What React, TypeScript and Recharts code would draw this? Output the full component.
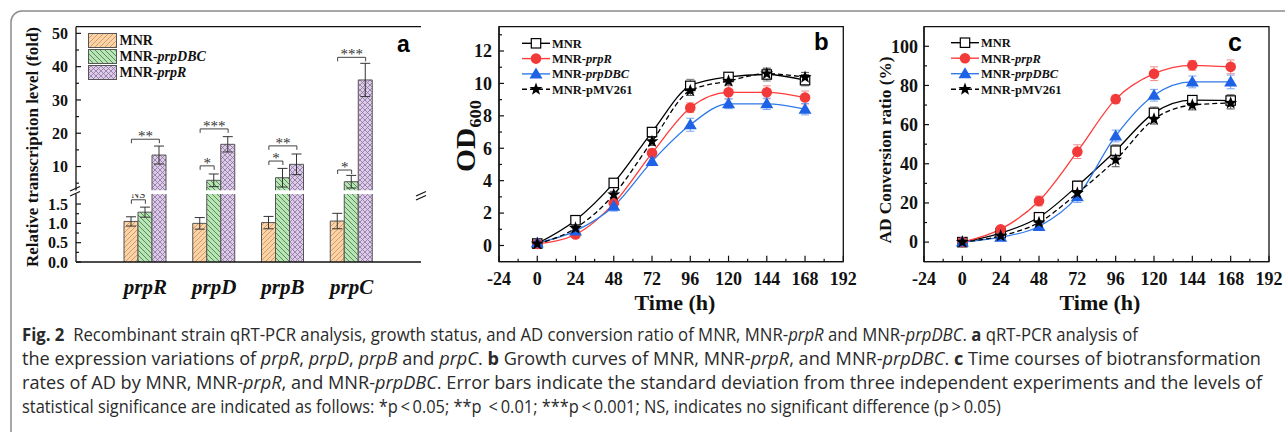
import React, { useLayoutEffect, useRef, useState } from 'react';
import {
  ComposedChart,
  LineChart,
  Bar,
  Line,
  XAxis,
  YAxis,
  ErrorBar,
  ReferenceLine,
  ReferenceArea,
  Legend,
} from 'recharts';

const SERIF = '"Liberation Serif", "Times New Roman", Times, serif';
const SANS = '"Liberation Sans", Arial, Helvetica, sans-serif';
const CAPTION_FONT = '"Open Sans", "Noto Sans", sans-serif';

// ---------------- Panel a : qRT-PCR ----------------
const genes = ['prpR', 'prpD', 'prpB', 'prpC'];
const foldMNR = [1.05, 1.0, 1.02, 1.06];
const errMNR = [0.12, 0.15, 0.16, 0.2];
const foldDBC = [1.29, 5.86, 6.64, 5.44];
const errDBC = [0.13, 1.9, 2.8, 1.9];
const foldPrpR = [13.45, 16.67, 10.66, 36.0];
const errPrpR = [2.7, 2.3, 3.1, 5.0];
const sigOuterY = [18.2, 21.3, 16.2, 42.8];
const sigOuterText = ['**', '***', '**', '***'];
const sigInnerY = [1.61, 10.2, 11.65, 8.95];
const sigInnerText = ['NS', '*', '*', '*'];
const upperTicksA = [5, 10, 15, 20, 25, 30, 35, 40, 45, 50];
const lowerTicksA = [0, 0.25, 0.5, 0.75, 1, 1.25, 1.5];
const A_LOW_MAX = 1.76;
const A_HIGH_MIN = 2.8;
const A_HIGH_MAX = 52;

// ---------------- Panel b : OD600 ----------------
const hours = [0, 24, 48, 72, 96, 120, 144, 168];
const odMNR = [0.12, 1.56, 3.86, 7.0, 9.85, 10.4, 10.55, 10.2];
const odMNRErr = [0.1, 0.15, 0.2, 0.25, 0.4, 0.25, 0.4, 0.35];
const odPrpR = [0.1, 0.68, 2.6, 5.7, 8.5, 9.45, 9.45, 9.13];
const odPrpRErr = [0.1, 0.1, 0.2, 0.25, 0.3, 0.4, 0.4, 0.4];
const odDBC = [0.15, 0.9, 2.42, 5.19, 7.45, 8.74, 8.74, 8.41];
const odDBCErr = [0.1, 0.15, 0.3, 0.25, 0.4, 0.3, 0.35, 0.35];
const odPMV = [0.1, 1.07, 3.14, 6.42, 9.56, 10.15, 10.6, 10.38];
const odPMVErr = [0.1, 0.15, 0.2, 0.25, 0.3, 0.25, 0.3, 0.3];

// ---------------- Panel c : AD conversion ----------------
const adMNR = [0, 4.6, 12.7, 28.7, 46.7, 66, 72.5, 72.3];
const adMNRErr = [1, 1.5, 2, 2.5, 3, 3, 2, 3];
const adPrpR = [0, 6.6, 21, 46.2, 73, 86, 90.3, 89.5];
const adPrpRErr = [1, 1.2, 2.5, 3.5, 2, 3.5, 2.5, 3.5];
const adDBC = [0, 2.5, 8, 23.2, 54.2, 75, 81.8, 81.8];
const adDBCErr = [1, 1, 1.5, 3, 3, 3, 3, 3.5];
const adPMV = [0, 3.2, 10, 25, 42, 62.8, 70, 71];
const adPMVErr = [1, 1, 1.5, 2.5, 3.5, 2.5, 2.5, 3];

const timeTicks = [-24, -12, 0, 12, 24, 36, 48, 60, 72, 84, 96, 108, 120, 132, 144, 156, 168, 180, 192];
const odTicks = [0, 1, 2, 3, 4, 5, 6, 7, 8, 9, 10, 11, 12, 13];
const adTicks = [0, 10, 20, 30, 40, 50, 60, 70, 80, 90, 100];

// ---------------- styles ----------------
const RED = '#f23a3a';
const RED_LINE = '#ff3b3b';
const RED_ERR = '#f58a8a';
const BLUE = '#1e62e6';
const BLUE_LINE = '#2e7ae8';
const BLUE_ERR = '#7aa6f0';
const BAR_W = 14;
const FRAME = '#111';

// ---------------- rows ----------------
const rowsUpperA = genes.map((g, i) => {
  const hi = (v: number) => (v > A_HIGH_MIN ? v : null);
  return {
    gene: g,
    mnr: hi(foldMNR[i]),
    mnrE: foldMNR[i] > A_HIGH_MIN ? errMNR[i] : null,
    dbc: hi(foldDBC[i]),
    dbcE: foldDBC[i] > A_HIGH_MIN ? errDBC[i] : null,
    prpr: hi(foldPrpR[i]),
    prprE: foldPrpR[i] > A_HIGH_MIN ? errPrpR[i] : null,
    sigO: sigOuterY[i],
    sigOT: sigOuterText[i],
    sigI: sigInnerY[i] > A_HIGH_MIN ? sigInnerY[i] : null,
    sigIT: sigInnerText[i],
  };
});
const rowsLowerA = genes.map((g, i) => ({
  gene: g,
  mnr: foldMNR[i],
  mnrE: foldMNR[i] <= A_LOW_MAX ? errMNR[i] : null,
  dbc: foldDBC[i],
  dbcE: foldDBC[i] <= A_LOW_MAX ? errDBC[i] : null,
  prpr: foldPrpR[i],
  prprE: foldPrpR[i] <= A_LOW_MAX ? errPrpR[i] : null,
  sigI: sigInnerY[i] <= A_LOW_MAX ? sigInnerY[i] : null,
  sigIT: sigInnerText[i],
}));
const rowsB = hours.map((h, i) => ({
  h,
  mnr: odMNR[i], mnrE: odMNRErr[i],
  prpr: odPrpR[i], prprE: odPrpRErr[i],
  dbc: odDBC[i], dbcE: odDBCErr[i],
  pmv: odPMV[i], pmvE: odPMVErr[i],
}));
const rowsC = hours.map((h, i) => ({
  h,
  mnr: adMNR[i], mnrE: adMNRErr[i],
  prpr: adPrpR[i], prprE: adPrpRErr[i],
  dbc: adDBC[i], dbcE: adDBCErr[i],
  pmv: adPMV[i], pmvE: adPMVErr[i],
}));

// ---------------- helpers ----------------
const isMajor = (v: number, step: number) => Math.abs(v / step - Math.round(v / step)) < 1e-6;

const Patterns = ({ p }: { p: string }) => (
  <defs>
    <pattern id={`${p}-mnr`} patternUnits="userSpaceOnUse" width="5" height="5">
      <rect width="5" height="5" fill="#fbd3a8" />
      <path d="M0,5 L5,0 M-1,1 L1,-1 M4,6 L6,4" stroke="#cf9358" strokeWidth="0.9" />
    </pattern>
    <pattern id={`${p}-dbc`} patternUnits="userSpaceOnUse" width="5" height="5">
      <rect width="5" height="5" fill="#b8e5b4" />
      <path d="M0,0 L5,5 M-1,4 L1,6 M4,-1 L6,1" stroke="#4f8052" strokeWidth="0.9" />
    </pattern>
    <pattern id={`${p}-prpr`} patternUnits="userSpaceOnUse" width="5" height="5">
      <rect width="5" height="5" fill="#dccbea" />
      <path d="M0,0 L5,5 M0,5 L5,0" stroke="#8a7398" strokeWidth="0.8" />
    </pattern>
  </defs>
);

const makeBarShape = (fill: string) => (p: any) => {
  const { x, y, width, height, background } = p;
  if (x == null || y == null || height == null || !isFinite(height) || height <= 0) return <g />;
  let top = y;
  let clipped = false;
  if (background && typeof background.y === 'number' && y < background.y) {
    top = background.y;
    clipped = true;
  }
  const bottom = y + height;
  const h = bottom - top;
  if (h <= 0) return <g />;
  const d = clipped
    ? `M${x},${bottom}V${top}M${x + width},${top}V${bottom}`
    : `M${x},${bottom}V${top}H${x + width}V${bottom}`;
  return (
    <g>
      <rect x={x} y={top} width={width} height={h} fill={fill} />
      <path d={d} fill="none" stroke="#555" strokeWidth={1} />
    </g>
  );
};

const makeBracket = (span: 'outer' | 'inner', labelKey: string) => (p: any) => {
  const { cx, cy, payload, index } = p;
  if (cx == null || cy == null || !isFinite(cy) || !payload) return <g key={`br-${span}-${index}`} />;
  const x1 = cx - BAR_W;
  const x2 = span === 'outer' ? cx + BAR_W : cx;
  const text = payload[labelKey];
  const ns = text === 'NS';
  return (
    <g key={`br-${span}-${index}`}>
      <path d={`M${x1},${cy + 4}V${cy}H${x2}V${cy + 4}`} stroke="#444" fill="none" strokeWidth={1} />
      <text
        x={(x1 + x2) / 2}
        y={ns ? cy - 2 : cy + 2}
        textAnchor="middle"
        fontFamily={SERIF}
        fontSize={ns ? 11 : 15}
        fill="#333"
      >
        {text}
      </text>
    </g>
  );
};

const makeYTick = (step: number, fmt: (v: number) => string, fs: number, gap: number) => (p: any) => {
  const { x, y, payload } = p;
  const v = payload.value;
  const major = isMajor(v, step);
  return (
    <g>
      <line x1={x} y1={y} x2={x + (major ? 5 : 3)} y2={y} stroke={FRAME} strokeWidth={1.2} />
      {major && (
        <text x={x - gap} y={y} dy="0.35em" textAnchor="end" fontFamily={SERIF} fontWeight="bold" fontSize={fs} fill="#111">
          {fmt(v)}
        </text>
      )}
    </g>
  );
};

const makeXTick = (step: number, fs: number, off: number) => (p: any) => {
  const { x, y, payload } = p;
  const v = payload.value;
  const major = isMajor(v, step);
  return (
    <g>
      <line x1={x} y1={y} x2={x} y2={y - (major ? 6 : 3)} stroke={FRAME} strokeWidth={1.2} />
      {major && (
        <text x={x} y={y + off} dy="0.35em" textAnchor="middle" fontFamily={SERIF} fontWeight="bold" fontSize={fs} fill="#111">
          {v}
        </text>
      )}
    </g>
  );
};

const geneTick = (p: any) => {
  const { x, y, payload } = p;
  return (
    <text x={x} y={y + 32} textAnchor="middle" fontFamily={SERIF} fontWeight="bold" fontStyle="italic" fontSize={21} fill="#111">
      {payload.value}
    </text>
  );
};

const starPath = (cx: number, cy: number, R: number, r: number) => {
  let d = '';
  for (let k = 0; k < 10; k++) {
    const ang = -Math.PI / 2 + (k * Math.PI) / 5;
    const rad = k % 2 === 0 ? R : r;
    d += (k === 0 ? 'M' : 'L') + (cx + rad * Math.cos(ang)).toFixed(2) + ',' + (cy + rad * Math.sin(ang)).toFixed(2);
  }
  return d + 'Z';
};

const ok = (p: any) => p && p.cx != null && p.cy != null && isFinite(p.cx) && isFinite(p.cy);
const squareMark = (cx: number, cy: number) => (
  <rect x={cx - 4.7} y={cy - 4.7} width={9.4} height={9.4} fill="#fff" stroke="#000" strokeWidth={1.2} />
);
const circleMark = (cx: number, cy: number) => <circle cx={cx} cy={cy} r={5.3} fill={RED} />;
const triMark = (cx: number, cy: number) => (
  <path d={`M${cx},${cy - 6.5}L${cx + 6.5},${cy + 4.5}L${cx - 6.5},${cy + 4.5}Z`} fill={BLUE} />
);
const starMark = (cx: number, cy: number) => <path d={starPath(cx, cy, 6.8, 2.8)} fill="#000" />;

const dotOf = (mk: (cx: number, cy: number) => React.ReactElement, name: string) => (p: any) =>
  ok(p) ? <g key={`${name}-${p.index}`}>{mk(p.cx, p.cy)}</g> : <g key={`${name}-${p.index}`} />;

// Legend for line panels
const lineLegendItems = [
  { pre: 'MNR', it: '', color: '#000', dash: undefined as string | undefined, mk: squareMark },
  { pre: 'MNR-', it: 'prpR', color: RED_LINE, dash: undefined, mk: circleMark },
  { pre: 'MNR-', it: 'prpDBC', color: BLUE_LINE, dash: undefined, mk: triMark },
  { pre: 'MNR-pMV261', it: '', color: '#000', dash: '5 3', mk: starMark },
];
const LineLegend = ({ rowY, rowGap }: { rowY: number; rowGap: number }) => (
  <svg width={150} height={72} style={{ display: 'block', overflow: 'visible' }}>
    {lineLegendItems.map((it, i) => {
      const y = rowY + i * rowGap;
      return (
        <g key={i}>
          <line x1={1} y1={y} x2={29} y2={y} stroke={it.color} strokeWidth={1.4} strokeDasharray={it.dash} />
          {it.mk(15, y)}
          <text x={31} y={y} dy="0.35em" fontFamily={SERIF} fontWeight="bold" fontSize={12.5} fill="#111">
            {it.pre}
            {it.it && <tspan fontStyle="italic">{it.it}</tspan>}
          </text>
        </g>
      );
    })}
  </svg>
);

const BarLegend = () => (
  <svg width={140} height={52} style={{ display: 'block', overflow: 'visible' }}>
    <Patterns p="lg" />
    {[
      { k: 'mnr', pre: 'MNR', it: '' },
      { k: 'dbc', pre: 'MNR-', it: 'prpDBC' },
      { k: 'prpr', pre: 'MNR-', it: 'prpR' },
    ].map((it, i) => {
      const top = 2.5 + i * 16;
      return (
        <g key={it.k}>
          <rect x={2.5} y={top} width={28} height={14} fill={`url(#lg-${it.k})`} stroke="#555" strokeWidth={1} />
          <text x={33.5} y={top + 7} dy="0.35em" fontFamily={SERIF} fontWeight="bold" fontSize={14} fill="#111">
            {it.pre}
            {it.it && <tspan fontStyle="italic">{it.it}</tspan>}
          </text>
        </g>
      );
    })}
  </svg>
);

const axisLineStyle = { stroke: FRAME, strokeWidth: 1.3 };

// ---------------- caption ----------------
type Seg = [string, '' | 'b' | 'i'];
const captionLines: { segs: Seg[]; len: number }[] = [
  {
    len: 1119,
    segs: [
      ['Fig. 2', 'b'],
      ['  Recombinant strain qRT-PCR analysis, growth status, and AD conversion ratio of MNR, MNR-', ''],
      ['prpR', 'i'],
      [' and MNR-', ''],
      ['prpDBC', 'i'],
      ['. ', ''],
      ['a', 'b'],
      [' qRT-PCR analysis of', ''],
    ],
  },
  {
    len: 1240,
    segs: [
      ['the expression variations of ', ''],
      ['prpR', 'i'],
      [', ', ''],
      ['prpD', 'i'],
      [', ', ''],
      ['prpB', 'i'],
      [' and ', ''],
      ['prpC', 'i'],
      ['. ', ''],
      ['b', 'b'],
      [' Growth curves of MNR, MNR-', ''],
      ['prpR', 'i'],
      [', and MNR-', ''],
      ['prpDBC', 'i'],
      ['. ', ''],
      ['c', 'b'],
      [' Time courses of biotransformation', ''],
    ],
  },
  {
    len: 1243,
    segs: [
      ['rates of AD by MNR, MNR-', ''],
      ['prpR', 'i'],
      [', and MNR-', ''],
      ['prpDBC', 'i'],
      ['. Error bars indicate the standard deviation from three independent experiments and the levels of', ''],
    ],
  },
  {
    len: 980,
    segs: [
      ['statistical significance are indicated as follows: *p\u2009<\u20090.05; **p\u2009 <\u20090.01; ***p\u2009<\u20090.001; NS, indicates no significant difference (p\u2009>\u20090.05)', ''],
    ],
  },
];
const captionBaselines = [341, 365, 389, 413];

const CaptionLine = ({ y, len, segs }: { y: number; len: number; segs: Seg[] }) => {
  const ref = useRef<SVGTextElement>(null);
  const [k, setK] = useState<number | null>(null);
  useLayoutEffect(() => {
    const el = ref.current;
    if (!el || k !== null) return;
    let w = 0;
    try {
      w = el.getBBox().width; // local (untransformed) width
    } catch (e) {
      w = 0;
    }
    setK(w > 0 ? len / w : 0.9);
  }, [len, k]);
  const s = k === null ? 1 : k;
  return (
    <text
      ref={ref}
      transform={`translate(22,${y}) scale(${s},1)`}
      x={0}
      y={0}
      fontFamily={CAPTION_FONT}
      fontSize={18.5}
      fill="#2a2a2a"
      xmlSpace="preserve"
    >
      {segs.map((sg, j) => (
        <tspan
          key={j}
          fontWeight={sg[1] === 'b' ? 'bold' : undefined}
          fontStyle={sg[1] === 'i' ? 'italic' : undefined}
        >
          {sg[0]}
        </tspan>
      ))}
    </text>
  );
};

export default function App() {
  return (
    <div style={{ position: 'absolute', left: 0, top: 0, width: 1285, height: 432, background: '#fff', overflow: 'hidden' }}>
      {/* ---------- Panel a, upper segment ---------- */}
      <div style={{ position: 'absolute', left: 0, top: 0 }}>
        <ComposedChart
          width={440}
          height={190.5}
          data={rowsUpperA}
          margin={{ top: 26.7, right: 19, left: 0, bottom: 0 }}
          barGap={0}
          barSize={BAR_W}
        >
          <Patterns p="pu" />
          <XAxis dataKey="gene" hide padding={{ left: 35, right: 35 }} />
          <YAxis
            yAxisId="L"
            type="number"
            domain={[A_HIGH_MIN, A_HIGH_MAX]}
            allowDataOverflow
            ticks={upperTicksA}
            interval={0}
            width={76}
            tickSize={0}
            tickMargin={0}
            tickLine={false}
            axisLine={axisLineStyle}
            tick={makeYTick(10, (v) => String(v), 16, 8)}
          />
          <YAxis
            yAxisId="R"
            orientation="right"
            type="number"
            domain={[A_HIGH_MIN, A_HIGH_MAX]}
            allowDataOverflow
            width={0}
            tick={false}
            tickLine={false}
            axisLine={axisLineStyle}
          />
          <ReferenceLine yAxisId="L" y={A_HIGH_MAX} stroke={FRAME} strokeWidth={1.3} />
          <Bar yAxisId="L" dataKey="mnr" isAnimationActive={false} shape={makeBarShape('url(#pu-mnr)')}>
            <ErrorBar dataKey="mnrE" width={5} stroke="#333" strokeWidth={1} direction="y" />
          </Bar>
          <Bar yAxisId="L" dataKey="dbc" isAnimationActive={false} shape={makeBarShape('url(#pu-dbc)')}>
            <ErrorBar dataKey="dbcE" width={5} stroke="#333" strokeWidth={1} direction="y" />
          </Bar>
          <Bar yAxisId="L" dataKey="prpr" isAnimationActive={false} shape={makeBarShape('url(#pu-prpr)')}>
            <ErrorBar dataKey="prprE" width={5} stroke="#333" strokeWidth={1} direction="y" />
          </Bar>
          <Line
            yAxisId="L"
            dataKey="sigO"
            stroke="none"
            isAnimationActive={false}
            activeDot={false}
            legendType="none"
            dot={makeBracket('outer', 'sigOT')}
          />
          <Line
            yAxisId="L"
            dataKey="sigI"
            stroke="none"
            isAnimationActive={false}
            activeDot={false}
            legendType="none"
            dot={makeBracket('inner', 'sigIT')}
          />
          <Legend
            layout="vertical"
            align="center"
            verticalAlign="middle"
            wrapperStyle={{ left: 86, top: 31, width: 140, height: 52 }}
            content={() => <BarLegend />}
          />
        </ComposedChart>
      </div>

      {/* ---------- Panel a, lower segment ---------- */}
      <div style={{ position: 'absolute', left: 0, top: 182 }}>
        <ComposedChart
          width={440}
          height={122}
          data={rowsLowerA}
          margin={{ top: 12, right: 19, left: 0, bottom: 0 }}
          barGap={0}
          barSize={BAR_W}
        >
          <Patterns p="pl" />
          <XAxis
            dataKey="gene"
            padding={{ left: 35, right: 35 }}
            height={42}
            tickSize={0}
            tickMargin={0}
            tickLine={false}
            axisLine={axisLineStyle}
            tick={geneTick}
            interval={0}
          />
          <YAxis
            yAxisId="L"
            type="number"
            domain={[0, A_LOW_MAX]}
            allowDataOverflow
            ticks={lowerTicksA}
            interval={0}
            width={76}
            tickSize={0}
            tickMargin={0}
            tickLine={false}
            axisLine={axisLineStyle}
            tick={makeYTick(0.5, (v) => v.toFixed(1), 16, 8)}
          />
          <YAxis
            yAxisId="R"
            orientation="right"
            type="number"
            domain={[0, A_LOW_MAX]}
            allowDataOverflow
            width={0}
            tick={false}
            tickLine={false}
            axisLine={axisLineStyle}
          />
          <Bar yAxisId="L" dataKey="mnr" isAnimationActive={false} shape={makeBarShape('url(#pl-mnr)')}>
            <ErrorBar dataKey="mnrE" width={5} stroke="#333" strokeWidth={1} direction="y" />
          </Bar>
          <Bar yAxisId="L" dataKey="dbc" isAnimationActive={false} shape={makeBarShape('url(#pl-dbc)')}>
            <ErrorBar dataKey="dbcE" width={5} stroke="#333" strokeWidth={1} direction="y" />
          </Bar>
          <Bar yAxisId="L" dataKey="prpr" isAnimationActive={false} shape={makeBarShape('url(#pl-prpr)')}>
            <ErrorBar dataKey="prprE" width={5} stroke="#333" strokeWidth={1} direction="y" />
          </Bar>
          <Line
            yAxisId="L"
            dataKey="sigI"
            stroke="none"
            isAnimationActive={false}
            activeDot={false}
            legendType="none"
            dot={makeBracket('inner', 'sigIT')}
          />
        </ComposedChart>
      </div>

      {/* ---------- Panel b ---------- */}
      <div style={{ position: 'absolute', left: 440, top: 0 }}>
        <LineChart width={420} height={300} data={rowsB} margin={{ top: 26.7, right: 16.7, left: 0, bottom: 0 }}>
          <XAxis
            dataKey="h"
            type="number"
            domain={[-24, 192]}
            allowDataOverflow
            ticks={timeTicks}
            interval={0}
            height={38.3}
            tickSize={0}
            tickMargin={0}
            tickLine={false}
            axisLine={axisLineStyle}
            tick={makeXTick(24, 18, 17)}
          />
          <YAxis
            type="number"
            domain={[-1, 13.5]}
            allowDataOverflow
            ticks={odTicks}
            interval={0}
            width={59}
            tickSize={0}
            tickMargin={0}
            tickLine={false}
            axisLine={axisLineStyle}
            tick={makeYTick(2, (v) => String(v), 18, 7)}
          />
          <ReferenceArea x1={-24} x2={192} y1={-1} y2={13.5} fill="none" stroke={FRAME} strokeWidth={1.3} />
          <Line dataKey="mnr" type="monotone" stroke="#000" strokeWidth={1.3} dot={dotOf(squareMark, 'bm')} activeDot={false} isAnimationActive={false}>
            <ErrorBar dataKey="mnrE" width={4} stroke="#777" strokeWidth={1} direction="y" />
          </Line>
          <Line dataKey="prpr" type="monotone" stroke={RED_LINE} strokeWidth={1.3} dot={dotOf(circleMark, 'br')} activeDot={false} isAnimationActive={false}>
            <ErrorBar dataKey="prprE" width={4} stroke={RED_ERR} strokeWidth={1} direction="y" />
          </Line>
          <Line dataKey="dbc" type="monotone" stroke={BLUE_LINE} strokeWidth={1.3} dot={dotOf(triMark, 'bd')} activeDot={false} isAnimationActive={false}>
            <ErrorBar dataKey="dbcE" width={4} stroke={BLUE_ERR} strokeWidth={1} direction="y" />
          </Line>
          <Line dataKey="pmv" type="monotone" stroke="#000" strokeWidth={1.3} strokeDasharray="5 3" dot={dotOf(starMark, 'bp')} activeDot={false} isAnimationActive={false}>
            <ErrorBar dataKey="pmvE" width={4} stroke="#555" strokeWidth={1} direction="y" />
          </Line>
          <Legend
            layout="vertical"
            align="center"
            verticalAlign="middle"
            wrapperStyle={{ left: 81, top: 35, width: 150, height: 72 }}
            content={() => <LineLegend rowY={8.3} rowGap={15.3} />}
          />
        </LineChart>
      </div>

      {/* ---------- Panel c ---------- */}
      <div style={{ position: 'absolute', left: 860, top: 0 }}>
        <LineChart width={425} height={300} data={rowsC} margin={{ top: 26.7, right: 16, left: 0, bottom: 0 }}>
          <XAxis
            dataKey="h"
            type="number"
            domain={[-24, 192]}
            allowDataOverflow
            ticks={timeTicks}
            interval={0}
            height={38.3}
            tickSize={0}
            tickMargin={0}
            tickLine={false}
            axisLine={axisLineStyle}
            tick={makeXTick(24, 18, 17)}
          />
          <YAxis
            type="number"
            domain={[-10, 110]}
            allowDataOverflow
            ticks={adTicks}
            interval={0}
            width={64}
            tickSize={0}
            tickMargin={0}
            tickLine={false}
            axisLine={axisLineStyle}
            tick={makeYTick(20, (v) => String(v), 18, 6)}
          />
          <ReferenceArea x1={-24} x2={192} y1={-10} y2={110} fill="none" stroke={FRAME} strokeWidth={1.3} />
          <Line dataKey="mnr" type="monotone" stroke="#000" strokeWidth={1.3} dot={dotOf(squareMark, 'cm')} activeDot={false} isAnimationActive={false}>
            <ErrorBar dataKey="mnrE" width={4} stroke="#777" strokeWidth={1} direction="y" />
          </Line>
          <Line dataKey="prpr" type="monotone" stroke={RED_LINE} strokeWidth={1.3} dot={dotOf(circleMark, 'cr')} activeDot={false} isAnimationActive={false}>
            <ErrorBar dataKey="prprE" width={4} stroke={RED_ERR} strokeWidth={1} direction="y" />
          </Line>
          <Line dataKey="dbc" type="monotone" stroke={BLUE_LINE} strokeWidth={1.3} dot={dotOf(triMark, 'cd')} activeDot={false} isAnimationActive={false}>
            <ErrorBar dataKey="dbcE" width={4} stroke={BLUE_ERR} strokeWidth={1} direction="y" />
          </Line>
          <Line dataKey="pmv" type="monotone" stroke="#000" strokeWidth={1.3} strokeDasharray="5 3" dot={dotOf(starMark, 'cp')} activeDot={false} isAnimationActive={false}>
            <ErrorBar dataKey="pmvE" width={4} stroke="#555" strokeWidth={1} direction="y" />
          </Line>
          <Legend
            layout="vertical"
            align="center"
            verticalAlign="middle"
            wrapperStyle={{ left: 90, top: 35, width: 150, height: 72 }}
            content={() => <LineLegend rowY={7.7} rowGap={15.5} />}
          />
        </LineChart>
      </div>

      {/* ---------- overlay: titles, letters, break marks, caption, frame ---------- */}
      <svg
        width={1285}
        height={432}
        style={{ position: 'absolute', left: 0, top: 0, pointerEvents: 'none' }}
      >
        <rect x={11} y={11} width={1300} height={440} rx={11} fill="none" stroke="#8c8c8c" strokeWidth={1.5} />

        {/* panel letters */}
        <text x={397} y={52} fontFamily={SANS} fontWeight="bold" fontSize={23} fill="#000">a</text>
        <text x={814} y={50} fontFamily={SANS} fontWeight="bold" fontSize={24} fill="#000">b</text>
        <text x={1228} y={51} fontFamily={SANS} fontWeight="bold" fontSize={25} fill="#000">c</text>

        {/* axis break marks (panel a) */}
        <g stroke="#111" strokeWidth={1.2}>
          <line x1={70} y1={191} x2={80} y2={186.5} />
          <line x1={70} y1={196} x2={80} y2={191.5} />
          <line x1={416} y1={196} x2={426} y2={191.5} />
          <line x1={416} y1={200} x2={426} y2={195.5} />
        </g>

        {/* y titles */}
        <text
          transform="translate(38,147) rotate(-90)"
          textAnchor="middle"
          fontFamily={SERIF}
          fontWeight="bold"
          fontSize={16}
          textLength={240}
          lengthAdjust="spacingAndGlyphs"
          fill="#111"
        >
          Relative transcription level (fold)
        </text>
        <text
          transform="translate(475,136) rotate(-90)"
          textAnchor="middle"
          fontFamily={SERIF}
          fontWeight="bold"
          fill="#111"
          textLength={72}
          lengthAdjust="spacingAndGlyphs"
        >
          <tspan fontSize={27}>OD</tspan>
          <tspan fontSize={17} dy={6}>600</tspan>
        </text>
        <text
          transform="translate(891,150) rotate(-90)"
          textAnchor="middle"
          fontFamily={SERIF}
          fontWeight="bold"
          fontSize={17}
          textLength={187}
          lengthAdjust="spacingAndGlyphs"
          fill="#111"
        >
          AD Conversion ratio (%)
        </text>

        {/* x titles */}
        <text x={675} y={310} textAnchor="middle" fontFamily={SERIF} fontWeight="bold" fontSize={22} fill="#111">
          Time (h)
        </text>
        <text x={1100} y={310} textAnchor="middle" fontFamily={SERIF} fontWeight="bold" fontSize={22} fill="#111">
          Time (h)
        </text>

        {/* caption */}
        {captionLines.map((ln, i) => (
          <CaptionLine key={i} y={captionBaselines[i]} len={ln.len} segs={ln.segs} />
        ))}
      </svg>
    </div>
  );
}
